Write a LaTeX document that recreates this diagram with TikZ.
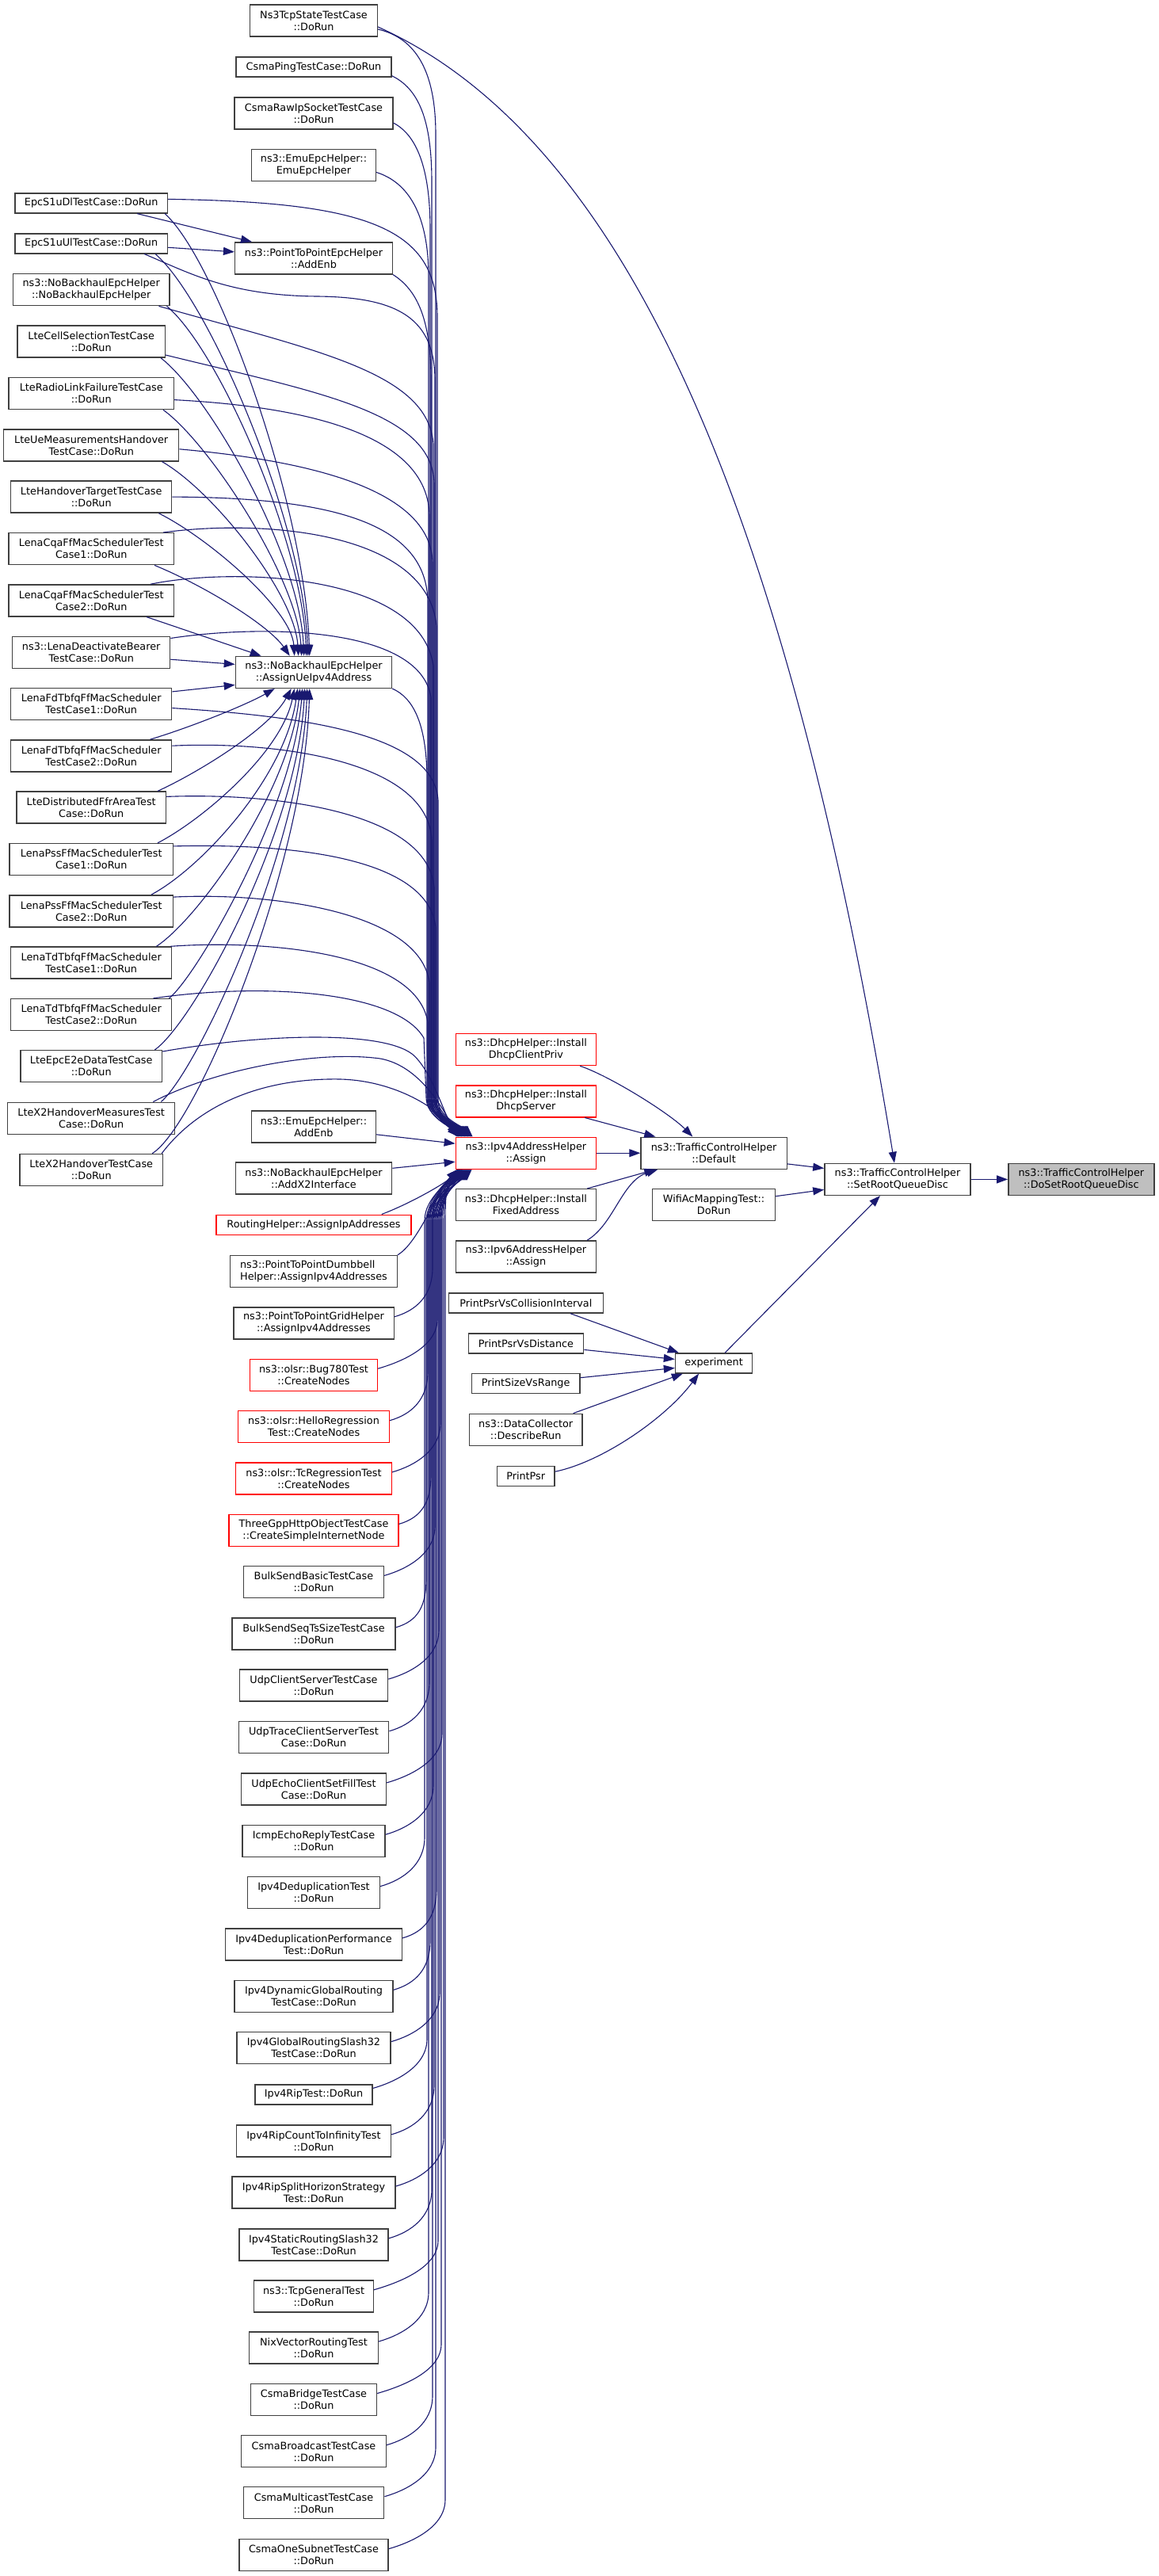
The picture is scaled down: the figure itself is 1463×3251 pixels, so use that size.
\documentclass[tikz,border=0pt]{standalone}
\usepackage{fontspec}
\newfontfamily\dvs{DejaVu Sans}
\usetikzlibrary{arrows.meta,calc}
\definecolor{edgecol}{HTML}{191970}
\definecolor{boxcol}{HTML}{404040}
\definecolor{rootfill}{HTML}{BFBFBF}
\begin{document}
\begin{tikzpicture}[x=1pt,y=-1pt,
 nbox/.style={draw=boxcol, line width=1.4pt, fill=white, inner xsep=2pt, inner ysep=1pt, align=center, font=\dvs\fontsize{12.8}{15}\selectfont, minimum height=40pt},
 oneline/.style={minimum height=25pt},
 redline/.style={draw=red},
 conn/.style={draw=edgecol, line width=1.1pt, -{Triangle[length=14pt,width=10pt]}},
 intoA/.style 2 args={insert path={-- (#1,1385) .. controls (#1,1410) and ({561+#2},1421) .. ([xshift=#2pt]A.north west)}}
]
\fill[white] (0,0) rectangle (1463,3251);
\useasboundingbox (0,0) rectangle (1463,3251);

% ---------- middle column ----------
\node[nbox, minimum width=160.5pt] (n1) at (396,25.9) {Ns3TcpStateTestCase\\::DoRun};
\node[nbox, oneline, minimum width=196pt] (n2) at (396,84.5) {CsmaPingTestCase::DoRun};
\node[nbox, minimum width=200pt] (n3) at (396,143.2) {CsmaRawIpSocketTestCase\\::DoRun};
\node[nbox, minimum width=156.5pt] (n4) at (396,208.4) {ns3::EmuEpcHelper::\\EmuEpcHelper};
\node[nbox, minimum width=198.7pt] (n7) at (396,325.9) {ns3::PointToPointEpcHelper\\::AddEnb};
\node[nbox, minimum width=197.2pt] (n16) at (396,848.4) {ns3::NoBackhaulEpcHelper\\::AssignUeIpv4Address};
\node[nbox, minimum width=156.5pt] (n27) at (396,1421.8) {ns3::EmuEpcHelper::\\AddEnb};
\node[nbox, minimum width=197.5pt] (n28) at (396,1487) {ns3::NoBackhaulEpcHelper\\::AddX2Interface};
\node[nbox, oneline, redline, minimum width=246pt] (n29) at (396,1545.7) {RoutingHelper::AssignIpAddresses};
\node[nbox, align=left, minimum width=210.5pt] (n30) at (396,1604.5) {ns3::PointToPointDumbbell\\Helper::AssignIpv4Addresses};
\node[nbox, minimum width=202.4pt] (n31) at (396,1669.8) {ns3::PointToPointGridHelper\\::AssignIpv4Addresses};
\node[nbox, redline, minimum width=160.9pt] (n32) at (396,1735.2) {ns3::olsr::Bug780Test\\::CreateNodes};
\node[nbox, redline, minimum width=190.9pt] (n33) at (396,1800.7) {ns3::olsr::HelloRegression\\Test::CreateNodes};
\node[nbox, redline, minimum width=196.5pt] (n34) at (396,1865.9) {ns3::olsr::TcRegressionTest\\::CreateNodes};
\node[nbox, redline, minimum width=213.8pt] (n35) at (396,1931.4) {ThreeGppHttpObjectTestCase\\::CreateSimpleInternetNode};
\node[nbox, minimum width=176.9pt] (n36) at (396,1996.4) {BulkSendBasicTestCase\\::DoRun};
\node[nbox, minimum width=206.1pt] (n37) at (396,2061.8) {BulkSendSeqTsSizeTestCase\\::DoRun};
\node[nbox, minimum width=187.2pt] (n38) at (396,2127.1) {UdpClientServerTestCase\\::DoRun};
\node[nbox, minimum width=189.5pt] (n39) at (396,2192.7) {UdpTraceClientServerTest\\Case::DoRun};
\node[nbox, minimum width=182.7pt] (n40) at (396,2257.9) {UdpEchoClientSetFillTest\\Case::DoRun};
\node[nbox, minimum width=180.2pt] (n41) at (396,2323.2) {IcmpEchoReplyTestCase\\::DoRun};
\node[nbox, minimum width=166.9pt] (n42) at (396,2388.6) {Ipv4DeduplicationTest\\::DoRun};
\node[nbox, minimum width=222.7pt] (n43) at (396,2453.9) {Ipv4DeduplicationPerformance\\Test::DoRun};
\node[nbox, minimum width=200.1pt] (n44) at (396,2519.3) {Ipv4DynamicGlobalRouting\\TestCase::DoRun};
\node[nbox, minimum width=194.2pt] (n45) at (396,2584.6) {Ipv4GlobalRoutingSlash32\\TestCase::DoRun};
\node[nbox, oneline, minimum width=148.3pt] (n46) at (396,2643.4) {Ipv4RipTest::DoRun};
\node[nbox, minimum width=195pt] (n47) at (396,2701.8) {Ipv4RipCountToInfinityTest\\::DoRun};
\node[nbox, minimum width=205.7pt] (n48) at (396,2767.1) {Ipv4RipSplitHorizonStrategy\\Test::DoRun};
\node[nbox, minimum width=188.3pt] (n49) at (396,2832.8) {Ipv4StaticRoutingSlash32\\TestCase::DoRun};
\node[nbox, minimum width=150.5pt] (n50) at (396,2897.8) {ns3::TcpGeneralTest\\::DoRun};
\node[nbox, minimum width=162.7pt] (n51) at (396,2963) {NixVectorRoutingTest\\::DoRun};
\node[nbox, minimum width=159.1pt] (n52) at (396,3028.5) {CsmaBridgeTestCase\\::DoRun};
\node[nbox, minimum width=182.7pt] (n53) at (396,3093.7) {CsmaBroadcastTestCase\\::DoRun};
\node[nbox, minimum width=177.5pt] (n54) at (396,3158.7) {CsmaMulticastTestCase\\::DoRun};
\node[nbox, minimum width=188.3pt] (n55) at (396,3224.6) {CsmaOneSubnetTestCase\\::DoRun};

% ---------- left column ----------
\node[nbox, oneline, minimum width=192.4pt] (l5) at (115.2,256.4) {EpcS1uDlTestCase::DoRun};
\node[nbox, oneline, minimum width=192.4pt] (l6) at (115.2,307.3) {EpcS1uUlTestCase::DoRun};
\node[nbox, minimum width=197.2pt] (l8) at (115.2,365.7) {ns3::NoBackhaulEpcHelper\\::NoBackhaulEpcHelper};
\node[nbox, minimum width=186.1pt] (l9) at (115.2,431) {LteCellSelectionTestCase\\::DoRun};
\node[nbox, minimum width=208.3pt] (l10) at (115.2,496.6) {LteRadioLinkFailureTestCase\\::DoRun};
\node[nbox, minimum width=220.9pt] (l11) at (115.2,561.8) {LteUeMeasurementsHandover\\TestCase::DoRun};
\node[nbox, minimum width=203.1pt] (l12) at (115.2,627.1) {LteHandoverTargetTestCase\\::DoRun};
\node[nbox, minimum width=208.3pt] (l13) at (115.2,692.7) {LenaCqaFfMacSchedulerTest\\Case1::DoRun};
\node[nbox, minimum width=208.3pt] (l14) at (115.2,757.9) {LenaCqaFfMacSchedulerTest\\Case2::DoRun};
\node[nbox, minimum width=199pt] (l15) at (115.2,823.2) {ns3::LenaDeactivateBearer\\TestCase::DoRun};
\node[nbox, minimum width=203.1pt] (l17) at (115.2,888.6) {LenaFdTbfqFfMacScheduler\\TestCase1::DoRun};
\node[nbox, minimum width=203.1pt] (l18) at (115.2,953.9) {LenaFdTbfqFfMacScheduler\\TestCase2::DoRun};
\node[nbox, minimum width=188.3pt] (l19) at (115.2,1019.1) {LteDistributedFfrAreaTest\\Case::DoRun};
\node[nbox, minimum width=206.1pt] (l20) at (115.2,1084.6) {LenaPssFfMacSchedulerTest\\Case1::DoRun};
\node[nbox, minimum width=206.1pt] (l21) at (115.2,1149.8) {LenaPssFfMacSchedulerTest\\Case2::DoRun};
\node[nbox, minimum width=203.1pt] (l22) at (115.2,1215) {LenaTdTbfqFfMacScheduler\\TestCase1::DoRun};
\node[nbox, minimum width=203.1pt] (l23) at (115.2,1280.6) {LenaTdTbfqFfMacScheduler\\TestCase2::DoRun};
\node[nbox, minimum width=178.7pt] (l24) at (115.2,1345.7) {LteEpcE2eDataTestCase\\::DoRun};
\node[nbox, minimum width=210.9pt] (l25) at (115.2,1411.2) {LteX2HandoverMeasuresTest\\Case::DoRun};
\node[nbox, minimum width=180.5pt] (l26) at (115.2,1476.4) {LteX2HandoverTestCase\\::DoRun};

% ---------- third column ----------
\node[nbox, redline, minimum width=177.2pt] (d56) at (663.9,1324.6) {ns3::DhcpHelper::Install\\DhcpClientPriv};
\node[nbox, redline, minimum width=177.2pt] (d57) at (663.9,1389.8) {ns3::DhcpHelper::Install\\DhcpServer};
\node[nbox, redline, minimum width=177.2pt] (A) at (663.9,1455.2) {ns3::Ipv4AddressHelper\\::Assign};
\node[nbox, minimum width=177.2pt] (d59) at (663.9,1520.7) {ns3::DhcpHelper::Install\\FixedAddress};
\node[nbox, minimum width=177.2pt] (d60) at (663.9,1585.9) {ns3::Ipv6AddressHelper\\::Assign};
\node[nbox, oneline, minimum width=194.8pt] (p61) at (663.9,1644.5) {PrintPsrVsCollisionInterval};
\node[nbox, oneline, minimum width=145.4pt] (p62) at (663.9,1695.4) {PrintPsrVsDistance};
\node[nbox, oneline, minimum width=136.6pt] (p63) at (663.6,1745.7) {PrintSizeVsRange};
\node[nbox, minimum width=142.5pt] (p64) at (663.7,1804.3) {ns3::DataCollector\\::DescribeRun};
\node[nbox, oneline, minimum width=72.7pt] (p65) at (663.7,1863.2) {PrintPsr};

% ---------- right part ----------
\node[nbox, minimum width=184.2pt] (D) at (901.1,1455.2) {ns3::TrafficControlHelper\\::Default};
\node[nbox, minimum width=154.8pt] (W) at (901.1,1520.7) {WifiAcMappingTest::\\DoRun};
\node[nbox, oneline, minimum width=97.2pt] (E) at (901.1,1720.4) {experiment};
\node[nbox, minimum width=184.2pt] (S) at (1133,1488.4) {ns3::TrafficControlHelper\\::SetRootQueueDisc};
\node[nbox, fill=rootfill, minimum width=184.2pt] (R) at (1364.9,1488.4) {ns3::TrafficControlHelper\\::DoSetRootQueueDisc};

% ---------- edges into Ipv4AddressHelper::Assign from above ----------
\draw[conn] ($(n1.east)+(0,11)$) .. controls (525,48) and (550,90) .. (550,170) [intoA={550}{20}];
\draw[conn] ($(n2.south east)+(0,-2)$) .. controls (528,112) and (545,150) .. (545,230) [intoA={545}{18}];
\draw[conn] ($(n3.east)+(0,12)$) .. controls (525,170) and (543,210) .. (543,290) [intoA={543}{16}];
\draw[conn] ($(n4.east)+(0,9)$) .. controls (515,230) and (541,270) .. (541,350) [intoA={541}{14}];
\draw[conn] ($(l5.east)+(0,-5)$) .. controls (470,255) and (552,290) .. (552,400) [intoA={552}{22}];
\draw[conn] ($(l6.south east)+(-30,0)$) .. controls (240,345) and (290,373) .. (400,374) .. controls (500,375) and (549,400) .. (549,480) [intoA={549}{12}];
\draw[conn] (n7.south east) .. controls (525,365) and (544,400) .. (544,480) [intoA={544}{10}];
\draw[conn] ($(l8.south east)+(-14,0)$) .. controls (400,443) and (540,470) .. (547,560) [intoA={547}{19}];
\draw[conn] ($(l9.east)+(0,17)$) .. controls (400,495) and (546,520) .. (548,610) [intoA={548}{17}];
\draw[conn] ($(l10.east)+(0,8)$) .. controls (420,515) and (540,560) .. (542,650) [intoA={542}{15}];
\draw[conn] ($(l11.east)+(0,5)$) .. controls (430,585) and (544,630) .. (546,710) [intoA={546}{13}];
\draw[conn] (l12.east) .. controls (420,628) and (539,660) .. (540,760) [intoA={540}{11}];
\draw[conn] ($(l13.north east)+(-14,0)$) .. controls (330,655) and (540,670) .. (551,790) [intoA={551}{9}];
\draw[conn] ($(l14.north east)+(-30,0)$) .. controls (300,715) and (530,725) .. (547,840) [intoA={547}{21}];
\draw[conn] ($(l15.north east)+(0,3)$) .. controls (330,788) and (530,790) .. (544,880) [intoA={544}{8}];
\draw[conn] (n16.south east) .. controls (520,880) and (538,910) .. (539,980) [intoA={539}{6}];
\draw[conn] ($(l17.east)+(0,5)$) .. controls (400,905) and (548,930) .. (553,1010) [intoA={553}{7}];
\draw[conn] ($(l18.north east)+(0,8)$) .. controls (350,935) and (540,960) .. (545,1060) [intoA={545}{5}];
\draw[conn] ($(l19.north east)+(0,7)$) .. controls (350,1000) and (540,1025) .. (548,1120) [intoA={548}{20}];
\draw[conn] ($(l20.north east)+(0,4)$) .. controls (380,1064) and (540,1085) .. (550,1170) [intoA={550}{4}];
\draw[conn] ($(l21.north east)+(0,3)$) .. controls (340,1126) and (530,1150) .. (542,1240) [intoA={542}{16}];
\draw[conn] ($(l22.north east)+(-2,0)$) .. controls (330,1186) and (525,1200) .. (540,1290) [intoA={540}{12}];
\draw[conn] ($(l23.north east)+(-24,0)$) .. controls (330,1240) and (500,1250) .. (535,1310) [intoA={538}{8}];
\draw[conn] ($(l24.north east)+(0,2)$) .. controls (330,1305) and (480,1300) .. (520,1330) .. controls (545,1350) and (562,1410) .. ([xshift=4pt]A.north west);
\draw[conn] ($(l25.north east)+(-28,0)$) .. controls (270,1350) and (400,1325) .. (480,1336) .. controls (530,1345) and (560,1400) .. ([xshift=3pt]A.north west);
\draw[conn] ($(l26.north east)+(-2,0)$) .. controls (250,1395) and (330,1360) .. (430,1362) .. controls (500,1364) and (555,1400) .. ([xshift=2pt]A.north west);

% from the left side
\draw[conn] ($(n27.east)+(0,10)$) -- ($(A.west)+(0,-12)$);
\draw[conn] ($(n28.north east)+(0,8)$) -- ($(A.west)+(0,11)$);

% from below
\draw[conn] ($(n29.north east)+(-38,0)$) .. controls (520,1518) and (564,1492) .. ([xshift=3pt]A.south west);
\draw[conn] (n30.north east) .. controls (528,1568) and (548,1510) .. ([xshift=5pt]A.south west);
\foreach \nd/\bx/\tp in {n31/546pt/21pt, n32/552pt/19pt, n33/540pt/17pt, n34/556pt/15pt, n35/544pt/20pt,
  n36/549pt/13pt, n37/538pt/18pt, n38/554pt/11pt, n39/542pt/16pt, n40/558pt/9pt, n41/547pt/14pt,
  n42/536pt/7pt, n43/551pt/12pt, n44/543pt/5pt, n45/555pt/10pt, n46/539pt/4pt, n47/548pt/8pt,
  n48/560pt/6pt, n49/545pt/3pt, n50/553pt/9pt, n51/541pt/5pt, n52/557pt/7pt, n53/546pt/4pt,
  n54/550pt/6pt, n55/562pt/3pt}{
  \draw[conn] let \p1=(\nd.east) in (\x1,\y1+8pt) .. controls (\x1+28pt,\y1+16pt) and (\bx,\y1+35pt) .. (\bx,\y1+70pt) -- (\bx,-1540pt) .. controls (\bx,-1512pt) and ({561pt+\tp},-1490pt) .. ([xshift=\tp]A.south west);
}

% ---------- edges into AssignUeIpv4Address ----------
\draw[conn] ($(l5.south east)+(-4,0)$) .. controls (275,330) and (385,640) .. ([xshift=94pt]n16.north west);
\draw[conn] ($(l6.south east)+(-16,0)$) .. controls (265,380) and (383,660) .. ([xshift=92pt]n16.north west);
\draw[conn] ($(l8.south east)+(-4,0)$) .. controls (275,440) and (381,680) .. ([xshift=90pt]n16.north west);
\draw[conn] ($(l9.south east)+(-6,0)$) .. controls (265,500) and (378,700) .. ([xshift=87pt]n16.north west);
\draw[conn] ($(l10.south east)+(-14,0)$) .. controls (265,560) and (375,730) .. ([xshift=84pt]n16.north west);
\draw[conn] ($(l11.south east)+(-22,0)$) .. controls (270,620) and (372,750) .. ([xshift=80pt]n16.north west);
\draw[conn] ($(l12.south east)+(-17,0)$) .. controls (265,680) and (368,770) .. ([xshift=75pt]n16.north west);
\draw[conn] ($(l13.south east)+(-25,0)$) .. controls (260,740) and (340,790) .. ([xshift=69pt]n16.north west);
\draw[conn] ($(l14.south east)+(-35,0)$) -- ([xshift=33pt]n16.north west);
\draw[conn] ($(l15.east)+(0,9)$) -- ($(n16.west)+(0,-10)$);
\draw[conn] ($(l17.north east)+(0,5)$) -- ($(n16.west)+(0,16)$);
\draw[conn] ($(l18.north east)+(-28,0)$) .. controls (240,918) and (310,890) .. ([xshift=50pt]n16.south west);
\draw[conn] ($(l19.north east)+(-11,0)$) .. controls (250,975) and (340,920) .. ([xshift=71pt]n16.south west);
\draw[conn] ($(l20.north east)+(-20,0)$) .. controls (255,1035) and (355,950) .. ([xshift=75pt]n16.south west);
\draw[conn] ($(l21.north east)+(-28,0)$) .. controls (255,1095) and (360,980) .. ([xshift=79pt]n16.south west);
\draw[conn] ($(l22.north east)+(-20,0)$) .. controls (250,1160) and (365,1000) .. ([xshift=82pt]n16.south west);
\draw[conn] ($(l23.north east)+(-4,0)$) .. controls (250,1230) and (370,1020) .. ([xshift=85pt]n16.south west);
\draw[conn] ($(l24.north east)+(-10,0)$) .. controls (245,1290) and (375,1050) .. ([xshift=88pt]n16.south west);
\draw[conn] ($(l25.north east)+(-18,0)$) .. controls (250,1350) and (380,1070) .. ([xshift=91pt]n16.south west);
\draw[conn] ($(l26.north east)+(-14,0)$) .. controls (250,1420) and (385,1090) .. ([xshift=94pt]n16.south west);

% ---------- edges into PointToPointEpcHelper::AddEnb ----------
\draw[conn] ($(l5.south east)+(-39,0)$) -- ([xshift=22pt]n7.north west);
\draw[conn] ($(l6.east)+(0,5)$) -- ($(n7.west)+(0,-8)$);

% ---------- edges into TrafficControlHelper::Default ----------
\draw[conn] ($(d56.south east)+(-21,0)$) .. controls (770,1358) and (845,1405) .. ([xshift=66pt]D.north west);
\draw[conn] ($(d57.south east)+(-15,0)$) -- ([xshift=19pt]D.north west);
\draw[conn] (A.east) -- (D.west);
\draw[conn] ($(d59.north east)+(-12,0)$) -- ([xshift=19pt]D.south west);
\draw[conn] ($(d60.north east)+(-12,0)$) .. controls (775,1545) and (785,1490) .. ([xshift=22pt]D.south west);

% ---------- edges into experiment ----------
\draw[conn] ($(p61.south east)+(-42,0)$) -- ($(E.north west)+(5,0)$);
\draw[conn] ($(p62.east)+(0,8)$) -- ($(E.west)+(0,-5)$);
\draw[conn] ($(p63.east)+(0,-7)$) -- ($(E.west)+(0,6)$);
\draw[conn] ($(p64.north east)+(-12,0)$) -- ($(E.south west)+(10,0)$);
\draw[conn] ($(p65.east)+(0,-6)$) .. controls (760,1845) and (840,1790) .. ($(E.south)+(-19,0)$);

% ---------- edges into SetRootQueueDisc and DoSetRootQueueDisc ----------
\draw[conn] ($(D.south east)+(0,-7)$) -- ($(S.west)+(0,-14)$);
\draw[conn] ($(W.east)+(0,-11)$) -- ($(S.west)+(0,13)$);
\draw[conn] ($(E.north)+(14,0)$) -- ($(S.south)+(-22,0)$);
\draw[conn] ($(n1.east)+(0,8)$) .. controls (818,187) and (1006,720) .. ($(S.north)+(-4,0)$);
\draw[conn] (S.east) -- (R.west);
\end{tikzpicture}
\end{document}
